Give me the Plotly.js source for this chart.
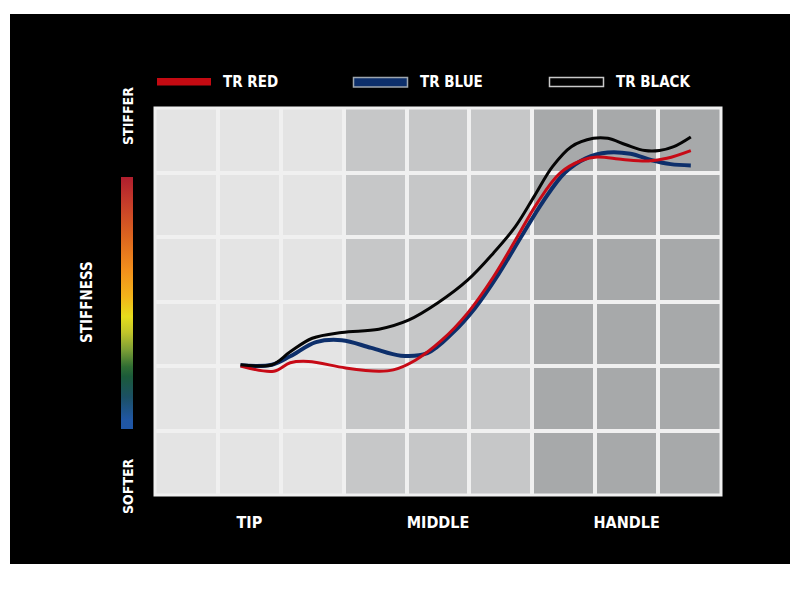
<!DOCTYPE html>
<html>
<head>
<meta charset="utf-8">
<script src="https://cdn.plot.ly/plotly-3.0.1.min.js"></script>
<style>
  html, body { margin: 0; padding: 0; background: #ffffff; }
  #chart { width: 800px; height: 610px; }
</style>
</head>
<body>
<div id="chart"></div>
<script>
// ---- data (shaft position in grid columns 0..9, stiffness in grid rows 0..6) ----
const seriesNames = ["TR RED", "TR BLUE", "TR BLACK"];
const zoneLabels = ["TIP", "MIDDLE", "HANDLE"];
const zoneCenters = [1.5, 4.5, 7.5];

const redPos   = [1.36, 1.89, 2.15, 2.44, 3.03, 3.56, 3.79, 4.14, 4.56, 4.97, 5.38, 5.73, 6.08, 6.44, 6.79, 7.03, 7.44, 7.85, 8.14, 8.52];
const redStiff = [2.00, 1.92, 2.05, 2.07, 1.97, 1.92, 1.94, 2.09, 2.40, 2.82, 3.38, 3.95, 4.53, 4.99, 5.19, 5.24, 5.20, 5.18, 5.22, 5.34];

const bluePos   = [1.36, 1.86, 2.15, 2.56, 2.97, 3.44, 3.91, 4.33, 4.73, 5.09, 5.46, 5.82, 6.17, 6.52, 6.85, 7.20, 7.56, 7.90, 8.20, 8.52];
const blueStiff = [2.01, 2.02, 2.15, 2.37, 2.40, 2.28, 2.16, 2.20, 2.51, 2.90, 3.42, 4.00, 4.55, 5.00, 5.22, 5.31, 5.29, 5.19, 5.13, 5.11];

const blackPos   = [1.36, 1.86, 2.15, 2.50, 2.97, 3.56, 4.03, 4.50, 4.97, 5.38, 5.73, 6.03, 6.32, 6.62, 6.97, 7.20, 7.49, 7.79, 8.02, 8.25, 8.52];
const blackStiff = [2.02, 2.02, 2.22, 2.43, 2.52, 2.57, 2.71, 2.98, 3.33, 3.75, 4.16, 4.63, 5.09, 5.40, 5.53, 5.53, 5.43, 5.34, 5.34, 5.40, 5.55];

// ---- styling ----
const FONT = "'DejaVu Sans Condensed', 'Liberation Sans Narrow', sans-serif";
const GRID = "#f0f0f0";
const colRed = "#c70a16", colBlue = "#0d2f6b", colBlack = "#050505";
const zoneColors = ["#e4e4e4", "#c6c7c8", "#a7a9aa"];
const stiffScale = [
  [0.000, "#1f56a8"], [0.037, "#2057a4"], [0.128, "#1b5064"], [0.208, "#1b5b3a"],
  [0.247, "#2f6d33"], [0.315, "#7e9f35"], [0.382, "#c0c42a"], [0.446, "#e6dc1c"],
  [0.525, "#f3b41a"], [0.632, "#f28f1c"], [0.763, "#dd651f"], [0.898, "#c63c2a"],
  [1.000, "#b01e2e"]
];

const W = 800, H = 610;
const M = { l: 155, r: 79, t: 108, b: 115 };
const PW = W - M.l - M.r, PH = H - M.t - M.b;
const px = v => (v - M.l) / PW;          // pixel x -> paper x
const py = v => (H - M.b - v) / PH;      // pixel y -> paper y

const shapes = [
  // black card behind everything
  { type: "rect", xref: "paper", yref: "paper", x0: px(10), x1: px(790), y0: py(564), y1: py(14),
    fillcolor: "#000000", line: { width: 0 }, layer: "below" }
];
// three shaded zones
zoneColors.forEach((c, i) => {
  shapes.push({ type: "rect", xref: "x", yref: "paper", x0: i * 3, x1: i * 3 + 3, y0: 0, y1: 1,
    fillcolor: c, line: { width: 0 }, layer: "below" });
});
// border
shapes.push({ type: "rect", xref: "paper", yref: "paper", x0: 0, x1: 1, y0: 0, y1: 1,
  fillcolor: "rgba(0,0,0,0)", line: { color: GRID, width: 3 }, layer: "below" });

// legend swatches
const legendItems = [
  { name: seriesNames[0], x0: 157, x1: 211, y0: 78, y1: 85.5, fill: "#c40a12", line: "rgba(0,0,0,0)", lw: 0, tx: 221 },
  { name: seriesNames[1], x0: 353.5, x1: 407.5, y0: 77.5, y1: 87, fill: colBlue, line: "#9ea6ae", lw: 1.5, tx: 418 },
  { name: seriesNames[2], x0: 549.5, x1: 603.5, y0: 77.5, y1: 86.5, fill: "#000000", line: "#c8c8c8", lw: 1.5, tx: 614 }
];
const annotations = [];
legendItems.forEach(it => {
  shapes.push({ type: "rect", xref: "paper", yref: "paper", x0: px(it.x0), x1: px(it.x1), y0: py(it.y1), y1: py(it.y0),
    fillcolor: it.fill, line: { color: it.line, width: it.lw }, layer: "above" });
  annotations.push({ xref: "paper", yref: "paper", x: px(it.tx), y: py(81.5), xanchor: "left", yanchor: "middle",
    text: "<b>" + it.name + "</b>", showarrow: false, font: { family: FONT, size: 15, color: "#ffffff" } });
});

// vertical axis words
annotations.push({ xref: "paper", yref: "paper", x: px(128), y: py(116), xanchor: "center", yanchor: "middle",
  text: "<b>STIFFER</b>", textangle: -90, showarrow: false, font: { family: FONT, size: 14, color: "#ffffff" } });
annotations.push({ xref: "paper", yref: "paper", x: px(128), y: py(486), xanchor: "center", yanchor: "middle",
  text: "<b>SOFTER</b>", textangle: -90, showarrow: false, font: { family: FONT, size: 14, color: "#ffffff" } });
annotations.push({ xref: "paper", yref: "paper", x: px(87), y: py(302), xanchor: "center", yanchor: "middle",
  text: "<b>STIFFNESS</b>", textangle: -90, showarrow: false, font: { family: FONT, size: 15, color: "#ffffff" } });

const lineTrace = (name, xs, ys, color, width) => ({
  type: "scatter", mode: "lines", name: name, x: xs, y: ys,
  line: { color: color, width: width, shape: "spline", smoothing: 1 },
  showlegend: false, hoverinfo: "x+y+name"
});

const data = [
  lineTrace(seriesNames[1], bluePos, blueStiff, colBlue, 4),
  lineTrace(seriesNames[0], redPos, redStiff, colRed, 3),
  lineTrace(seriesNames[2], blackPos, blackStiff, colBlack, 3),
  // stiffness gradient bar
  { type: "scatter", mode: "markers", x: [null], y: [null], showlegend: false, hoverinfo: "skip",
    marker: { color: [0], cmin: 0, cmax: 1, colorscale: stiffScale, showscale: true,
      colorbar: { xref: "paper", yref: "paper", x: px(120.7), xanchor: "left",
        y: py(303.3), yanchor: "middle", lenmode: "pixels", len: 252,
        thicknessmode: "pixels", thickness: 11.6, xpad: 0, ypad: 0, outlinewidth: 0,
        showticklabels: false, ticks: "", bgcolor: "rgba(0,0,0,0)" } } }
];

const layout = {
  width: W, height: H,
  margin: { l: M.l, r: M.r, t: M.t, b: M.b, pad: 0 },
  paper_bgcolor: "#ffffff", plot_bgcolor: "rgba(0,0,0,0)",
  showlegend: false,
  xaxis: {
    range: [0, 9], fixedrange: true, zeroline: false, showline: false,
    tickmode: "array", tickvals: zoneCenters, ticktext: zoneLabels.map(t => "<b>" + t + "</b>"),
    ticks: "", showgrid: false, ticklabelstandoff: 16,
    tickfont: { family: FONT, size: 16, color: "#ffffff" },
    minor: { tickmode: "linear", tick0: 0, dtick: 1, showgrid: true, gridcolor: GRID, gridwidth: 4, ticks: "" }
  },
  yaxis: {
    range: [0, 6], fixedrange: true, zeroline: false, showline: false,
    tickmode: "linear", tick0: 0, dtick: 1, showticklabels: false, ticks: "",
    showgrid: true, gridcolor: GRID, gridwidth: 4
  },
  shapes: shapes,
  annotations: annotations
};

Plotly.newPlot("chart", data, layout, { displayModeBar: false, staticPlot: true });
</script>
</body>
</html>
